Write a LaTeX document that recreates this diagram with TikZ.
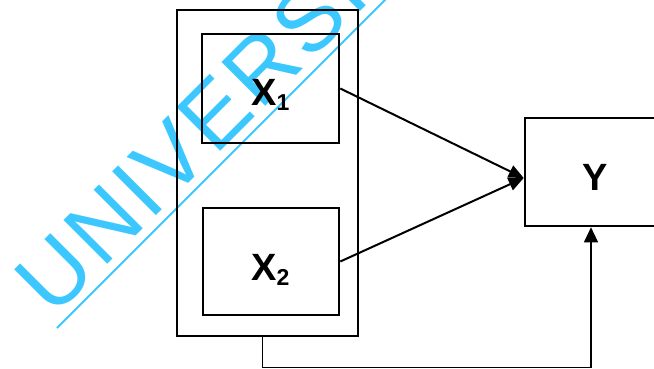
\documentclass[tikz,border=0pt]{standalone}
\usepackage{fontspec}
\setmainfont{Liberation Sans}
\usetikzlibrary{arrows.meta}
\definecolor{wmcyan}{RGB}{60,200,255}
\newcommand{\subx}[1]{\raisebox{-5pt}{\fontsize{23}{23}\selectfont #1}}
\tikzset{
  box/.style={draw, line width=2.6pt, inner sep=0pt},
  lbl/.style={font=\fontsize{38}{38}\selectfont\bfseries, inner sep=0pt, anchor=base west},
  link/.style={line width=2pt, -{Triangle[length=15pt,width=13pt]}},
  fback/.style={line width=1.2pt, -{Triangle[length=15pt,width=14pt]}},
}
\begin{document}
\begin{tikzpicture}[x=1pt,y=-1pt]
\useasboundingbox (0,0) rectangle (654,368);
\clip (0,0) rectangle (654,368);

% watermark lettering and its underline
\node[wmcyan, anchor=base west, rotate=45, inner sep=0pt,
      font=\fontsize{90}{90}\selectfont\addfontfeature{LetterSpace=4}] (wm) at (53.5,318.5) {UNIVERSITY};
\coordinate (ul1) at (57,328);
\coordinate (ul2) at (390,-5);
\draw[wmcyan, line width=2pt] (ul1) -- (ul2);

% blocks
\node[box, minimum width=181pt, minimum height=326pt] (outer) at (267.5,173) {};
\node[box, minimum width=137pt, minimum height=109pt] (X1) at (270.5,88.5) {};
\node[box, minimum width=136pt, minimum height=107pt] (X2) at (271,261.5) {};
\node[box, minimum width=140pt, minimum height=108pt] (Y) at (595,172) {};

% block labels
\node[lbl] (X1t) at (251,105) {X\subx{1}};
\node[lbl] (X2t) at (251,280) {X\subx{2}};
\node[lbl] (Yt) at (582,190) {Y};

% connectors
\draw[link] (X1.east) -- ([yshift=-6pt]Y.west);
\draw[link] (X2.east) -- ([yshift=-6pt]Y.west);
\draw[fback] ([xshift=-5pt]outer.south) -- ++(0,30) -| ([xshift=-4pt]Y.south);
\end{tikzpicture}
\end{document}
